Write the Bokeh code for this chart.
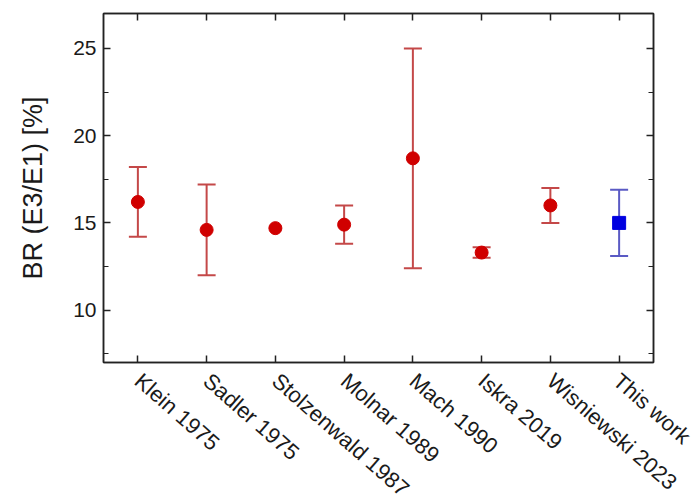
from bokeh.plotting import figure
from bokeh.models import (ColumnDataSource, FactorRange, Range1d, Whisker, TeeHead,
                          LinearAxis, CategoricalAxis, SingleIntervalTicker)
from bokeh.embed import file_html
from bokeh.resources import INLINE

# Branching ratio E3/E1 [%] reported by each measurement
studies = ["Klein 1975", "Sadler 1975", "Stolzenwald 1987", "Molnar 1989",
           "Mach 1990", "Iskra 2019", "Wisniewski 2023", "This work"]
br = [16.2, 14.6, 14.7, 14.9, 18.7, 13.3, 16.0, 15.0]
br_low = [14.2, 12.0, None, 13.8, 12.4, 13.0, 15.0, 13.1]
br_high = [18.2, 17.2, None, 16.0, 25.0, 13.6, 17.0, 16.9]

FONT = "Liberation Sans"
RED, RED_BAR = "#d00000", "#c44848"
BLUE, BLUE_BAR = "#0000e0", "#5a5ac4"

previous = [i for i, s in enumerate(studies) if s != "This work"]
ours = [i for i, s in enumerate(studies) if s == "This work"]


def subset(idx):
    return ColumnDataSource(dict(x=[studies[i] for i in idx], y=[br[i] for i in idx]))


def err_subset(idx):
    keep = [i for i in idx if br_low[i] is not None]
    return ColumnDataSource(dict(x=[studies[i] for i in keep],
                                 lower=[br_low[i] for i in keep],
                                 upper=[br_high[i] for i in keep]))


p = figure(x_range=FactorRange(*studies), y_range=Range1d(7, 27),
           frame_width=550, frame_height=349,
           min_border_left=103, min_border_right=42,
           min_border_top=13, min_border_bottom=138,
           output_backend="svg", toolbar_location=None)
p.xgrid.visible = False
p.ygrid.visible = False
p.outline_line_color = "#222222"
p.outline_line_width = 1.5
p.background_fill_color = "white"
p.border_fill_color = "white"

yticker = SingleIntervalTicker(interval=5, num_minor_ticks=2)


def style_axis(ax, labels=True):
    ax.axis_line_color = "#222222"
    ax.axis_line_width = 1.5
    ax.major_tick_line_color = "#222222"
    ax.minor_tick_line_color = "#222222"
    ax.major_tick_line_width = 1.5
    ax.minor_tick_line_width = 1.2
    ax.major_tick_in = 7
    ax.major_tick_out = 0
    ax.minor_tick_in = 5
    ax.minor_tick_out = 0
    ax.major_label_text_font = FONT
    ax.major_label_text_color = "#1a1a1a"
    if not labels:
        # tick marks only, no tick labels on the mirrored edges
        ax.major_label_text_color = None
        ax.major_label_text_font_size = "1px"
        ax.major_label_standoff = 0


# left axis
yax = p.yaxis[0]
yax.ticker = yticker
style_axis(yax)
yax.major_label_text_font_size = "21px"
yax.major_label_standoff = 7
yax.axis_label = "BR (E3/E1) [%]"
yax.axis_label_text_font = FONT
yax.axis_label_text_font_size = "27px"
yax.axis_label_text_font_style = "normal"
yax.axis_label_text_color = "#1a1a1a"
yax.axis_label_standoff = 22

# bottom axis
xax = p.xaxis[0]
style_axis(xax)
xax.major_label_text_font_size = "22px"
xax.major_label_orientation = -0.72
xax.major_label_standoff = 15

# mirrored ticks on the top and right edges
top = CategoricalAxis()
style_axis(top, labels=False)
p.add_layout(top, "above")
right = LinearAxis(ticker=yticker)
style_axis(right, labels=False)
p.add_layout(right, "right")

# error bars
for idx, col in ((previous, RED_BAR), (ours, BLUE_BAR)):
    w = Whisker(base="x", lower="lower", upper="upper", source=err_subset(idx),
                line_color=col, line_width=2, level="underlay",
                upper_head=TeeHead(size=18, line_color=col, line_width=2),
                lower_head=TeeHead(size=18, line_color=col, line_width=2))
    p.add_layout(w)

# central values
p.scatter("x", "y", source=subset(previous), marker="circle", size=13,
          fill_color=RED, line_color=RED)
p.scatter("x", "y", source=subset(ours), marker="square", size=13,
          fill_color=BLUE, line_color=BLUE)

open("out.html", "w").write(file_html(p, INLINE))
